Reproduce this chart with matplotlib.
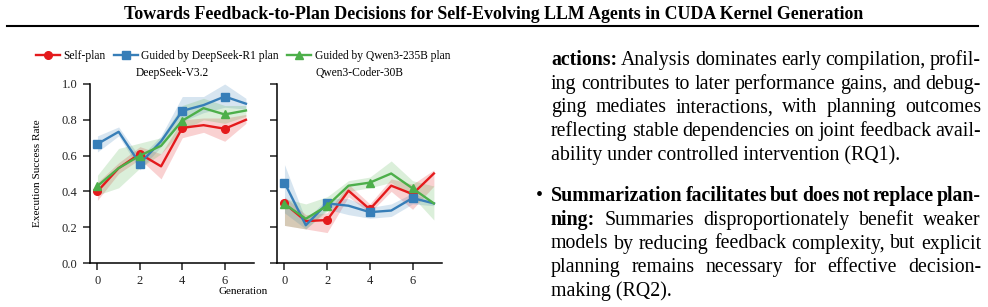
import numpy as np
import matplotlib
matplotlib.use("Agg")
import matplotlib.pyplot as plt
from matplotlib.lines import Line2D

plt.rcParams["font.family"] = ["Liberation Serif", "DejaVu Serif"]

gens = np.arange(8)
x_ticks = [0, 2, 4, 6]
y_ticks = [0.0, 0.2, 0.4, 0.6, 0.8, 1.0]

series_labels = ["Self-plan", "Guided by DeepSeek-R1 plan", "Guided by Qwen3-235B plan"]
panel_titles = ["DeepSeek-V3.2", "Qwen3-Coder-30B"]

# DeepSeek-V3.2 panel: mean, lower, upper
ds_self = [0.40, 0.53, 0.61, 0.54, 0.755, 0.77, 0.75, 0.80]
ds_self_lo = [0.35, 0.50, 0.58, 0.47, 0.70, 0.73, 0.68, 0.78]
ds_self_hi = [0.45, 0.56, 0.65, 0.61, 0.80, 0.81, 0.81, 0.83]
ds_r1 = [0.665, 0.733, 0.555, 0.68, 0.85, 0.882, 0.93, 0.89]
ds_r1_lo = [0.62, 0.71, 0.52, 0.65, 0.79, 0.84, 0.87, 0.86]
ds_r1_hi = [0.71, 0.76, 0.59, 0.71, 0.93, 0.93, 1.00, 0.92]
ds_qw = [0.43, 0.53, 0.60, 0.655, 0.795, 0.865, 0.83, 0.852]
ds_qw_lo = [0.38, 0.42, 0.53, 0.61, 0.74, 0.80, 0.78, 0.82]
ds_qw_hi = [0.49, 0.64, 0.67, 0.70, 0.88, 0.92, 0.88, 0.88]

# Qwen3-Coder-30B panel
qc_self = [0.333, 0.234, 0.24, 0.404, 0.30, 0.432, 0.385, 0.50]
qc_self_lo = [0.21, 0.19, 0.17, 0.37, 0.28, 0.40, 0.30, 0.43]
qc_self_hi = [0.37, 0.27, 0.28, 0.44, 0.33, 0.47, 0.44, 0.52]
qc_r1 = [0.449, 0.211, 0.333, 0.32, 0.284, 0.293, 0.363, 0.333]
qc_r1_lo = [0.28, 0.19, 0.30, 0.27, 0.25, 0.26, 0.33, 0.32]
qc_r1_hi = [0.55, 0.24, 0.36, 0.36, 0.31, 0.33, 0.39, 0.34]
qc_qw = [0.33, 0.247, 0.32, 0.432, 0.449, 0.50, 0.417, 0.333]
qc_qw_lo = [0.21, 0.19, 0.29, 0.40, 0.42, 0.45, 0.37, 0.24]
qc_qw_hi = [0.36, 0.33, 0.37, 0.46, 0.48, 0.57, 0.46, 0.43]

colors = ["#e41a1c", "#377eb8", "#4daf4a"]
markers = ["o", "s", "^"]

header = "Towards Feedback-to-Plan Decisions for Self-Evolving LLM Agents in CUDA Kernel Generation"
para1 = [
    [("actions:", "bold"), ("Analysis dominates early compilation, profil-", "normal")],
    [("ing contributes to later performance gains, and debug-", "normal")],
    [("ging mediates interactions, with planning outcomes", "normal")],
    [("reflecting stable dependencies on joint feedback avail-", "normal")],
    [("ability under controlled intervention (RQ1).", "normal")],
]
para2 = [
    [("Summarization facilitates but does not replace plan-", "bold")],
    [("ning:", "bold"), ("Summaries disproportionately benefit weaker", "normal")],
    [("models by reducing feedback complexity, but explicit", "normal")],
    [("planning remains necessary for effective decision-", "normal")],
    [("making (RQ2).", "normal")],
]

W, H = 988, 307
fig = plt.figure(figsize=(W / 100, H / 100), dpi=100)
renderer = fig.canvas.get_renderer()


def fx(x):
    return x / W


def fy(y):
    return 1 - y / H


def text_w(s, size, weight="normal"):
    t = fig.text(0, 0, s, fontsize=size, fontweight=weight)
    w = t.get_window_extent(renderer).width
    t.remove()
    return w


# ---- plots ----
panels = [
    (fig.add_axes([fx(90), fy(263), fx(164), 179 / H]),
     [(ds_self, ds_self_lo, ds_self_hi), (ds_r1, ds_r1_lo, ds_r1_hi), (ds_qw, ds_qw_lo, ds_qw_hi)]),
    (fig.add_axes([fx(277), fy(263), fx(165), 179 / H]),
     [(qc_self, qc_self_lo, qc_self_hi), (qc_r1, qc_r1_lo, qc_r1_hi), (qc_qw, qc_qw_lo, qc_qw_hi)]),
]

handles = []
for i, (ax, data) in enumerate(panels):
    for j, (m, lo, hi) in enumerate(data):
        ax.fill_between(gens, lo, hi, color=colors[j], alpha=0.2, lw=0)
        h, = ax.plot(gens, m, color=colors[j], lw=1.7, marker=markers[j],
                     markersize=5.5, markevery=[0, 2, 4, 6], label=series_labels[j])
        if i == 0:
            handles.append(h)
    ax.set_xlim(-0.35, 7.38)
    ax.set_ylim(0, 1)
    ax.set_xticks(x_ticks)
    ax.set_yticks(y_ticks)
    ax.spines[["top", "right"]].set_visible(False)
    for s in ["left", "bottom"]:
        ax.spines[s].set_linewidth(1.1)
    ax.tick_params(labelsize=9, length=5, width=1.1, pad=4, colors="#222222")
    ax.set_title(panel_titles[i], fontsize=8.3, pad=6)
    if i == 0:
        ax.set_yticklabels([f"{v:.1f}" for v in y_ticks])
        ax.set_ylabel("Execution Success Rate", fontsize=8.1)
        ax.yaxis.set_label_coords(-0.29, 0.5)
    else:
        ax.set_yticklabels([])

fig.legend(handles=handles, loc="center", bbox_to_anchor=(fx(243), fy(56)),
           ncol=3, frameon=False, fontsize=8.3, handlelength=2.1,
           handletextpad=0.3, columnspacing=0.7, borderpad=0)
fig.text(fx(243), fy(292), "Generation", fontsize=8, ha="center", va="center")

# ---- page header ----
hs = 11 * 740 / text_w(header, 11, "bold")
fig.text(fx(494), fy(19), header, fontsize=hs, fontweight="bold",
         ha="center", va="baseline")
fig.add_artist(Line2D([fx(7), fx(978)], [fy(25.7), fy(25.7)],
                      transform=fig.transFigure, color="black", lw=1.5))

# ---- body text ----
bs = 12 * 348 / text_w("ability under controlled intervention (RQ1).", 12)
left, right = 551, 981


def draw_line(segments, y, justify):
    words = []
    for s, wt in segments:
        words += [(w, wt) for w in s.split(" ")]
    if not justify:
        x = left
        for s, wt in segments:
            fig.text(fx(x), fy(y), s, fontsize=bs, fontweight=wt, va="baseline")
            x += text_w(s + " ", bs, wt)
        return
    widths = [text_w(w, bs, wt) for w, wt in words]
    gap = (right - left - sum(widths)) / (len(words) - 1)
    x = left
    for (w, wt), ww in zip(words, widths):
        fig.text(fx(x), fy(y), w, fontsize=bs, fontweight=wt, va="baseline")
        x += ww + gap


step = 23.75
for k, segs in enumerate(para1):
    draw_line(segs, 65 + k * step, k < len(para1) - 1)
fig.text(fx(536), fy(201), "\u2022", fontsize=bs, va="baseline")
for k, segs in enumerate(para2):
    draw_line(segs, 201 + k * step, k < len(para2) - 1)

fig.savefig("out.png", dpi=100)
